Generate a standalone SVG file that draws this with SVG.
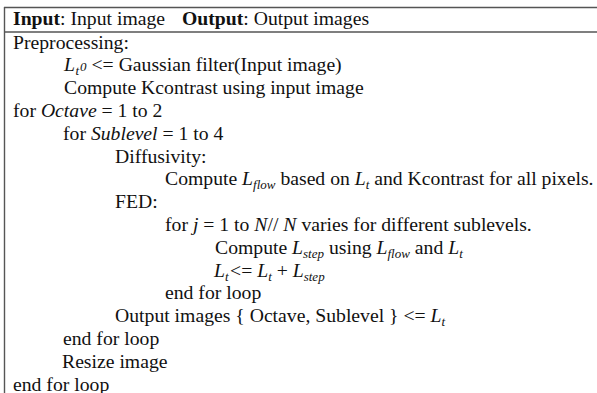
<svg xmlns="http://www.w3.org/2000/svg" width="597" height="393" viewBox="0 0 597 393">
  <style>
    text { font-family: "Liberation Serif", "Times New Roman", serif; font-size: 19.7px; fill: #111; }
    .b { font-weight: bold; }
    .i { font-style: italic; }
    .sub { font-style: italic; font-size: 13px; }
    .rule { stroke: #555; stroke-width: 1.4; fill: none; }
  </style>
  <rect width="597" height="393" fill="#fff"/>

  <!-- table frame -->
  <g id="frame">
    <line class="rule" x1="4" y1="7.5" x2="597" y2="7.5"/>
    <line class="rule" x1="4" y1="32" x2="597" y2="32"/>
    <line class="rule" x1="4.5" y1="7" x2="4.5" y2="393"/>
  </g>

  <!-- header row -->
  <g id="header">
    <text x="13" y="25"><tspan class="b">Input</tspan>: Input image</text>
    <text x="182" y="25"><tspan class="b">Output</tspan>: Output images</text>
  </g>

  <!-- algorithm body -->
  <g id="body">
    <text x="13" y="48.5">Preprocessing:</text>
    <text x="64" y="71.3"><tspan class="i">L</tspan><tspan class="sub" dy="4" dx="0.5">t</tspan><tspan class="sub" font-size="11" dy="-4" dx="1">0</tspan><tspan> &lt;= Gaussian filter(Input image)</tspan></text>
    <text x="64" y="94.1">Compute Kcontrast using input image</text>
    <text x="13" y="116.9">for <tspan class="i">Octave</tspan> = 1 to 2</text>
    <text x="63" y="139.7">for <tspan class="i">Sublevel</tspan> = 1 to 4</text>
    <text x="115" y="162.5">Diffusivity:</text>
    <text x="165" y="185.3">Compute <tspan class="i">L</tspan><tspan class="sub" dy="4">flow</tspan><tspan dy="-4"> based on </tspan><tspan class="i">L</tspan><tspan class="sub" dy="4">t</tspan><tspan dy="-4"> and Kcontrast for all pixels.</tspan></text>
    <text x="115" y="208.1">FED:</text>
    <text x="165" y="230.9">for <tspan class="i">j</tspan> = 1 to <tspan class="i">N</tspan>// <tspan class="i">N</tspan> varies for different sublevels.</text>
    <text x="215" y="253.7">Compute <tspan class="i">L</tspan><tspan class="sub" dy="4">step</tspan><tspan dy="-4"> using </tspan><tspan class="i">L</tspan><tspan class="sub" dy="4">flow</tspan><tspan dy="-4"> and </tspan><tspan class="i">L</tspan><tspan class="sub" dy="4">t</tspan></text>
    <text x="214" y="276.5"><tspan class="i">L</tspan><tspan class="sub" dy="4">t</tspan><tspan dy="-4" dx="1.5">&lt;= </tspan><tspan class="i">L</tspan><tspan class="sub" dy="4">t</tspan><tspan dy="-4"> + </tspan><tspan class="i">L</tspan><tspan class="sub" dy="4">step</tspan></text>
    <text x="165" y="299.3">end for loop</text>
    <text x="115" y="322.1">Output images { Octave, Sublevel } &lt;= <tspan class="i">L</tspan><tspan class="sub" dy="4">t</tspan></text>
    <text x="63" y="344.9">end for loop</text>
    <text x="62" y="367.7">Resize image</text>
    <text x="13" y="390.5">end for loop</text>
  </g>
</svg>
